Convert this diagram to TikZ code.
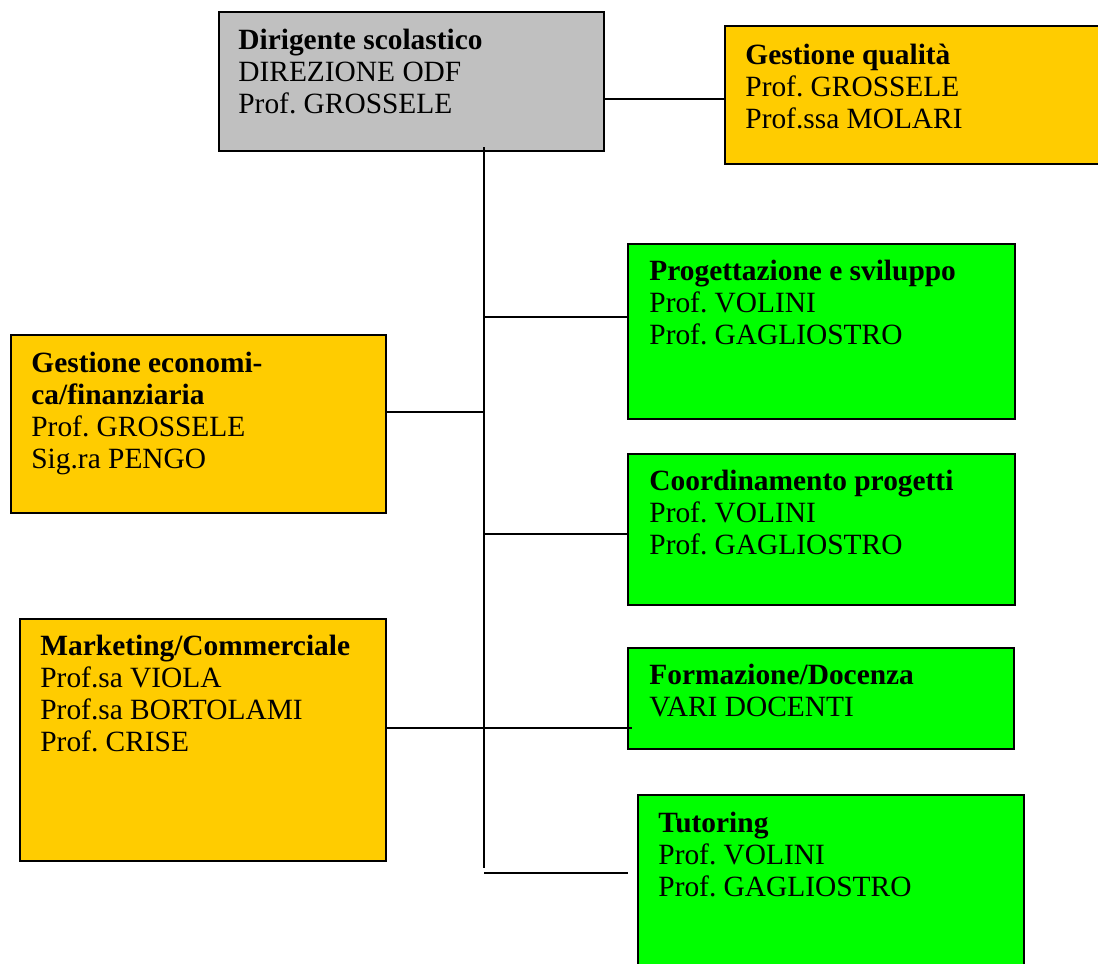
\documentclass[tikz,border=0pt]{standalone}
\usepackage{fontspec}
\setmainfont{Liberation Serif}
\usetikzlibrary{fit}
\definecolor{boxgray}{HTML}{C0C0C0}
\definecolor{boxorange}{HTML}{FFCC00}
\definecolor{boxgreen}{HTML}{00FF00}
\tikzset{
  unitbox/.style={draw=black, line width=1pt, inner sep=0pt},
  graybox/.style={unitbox, fill=boxgray},
  orangebox/.style={unitbox, fill=boxorange},
  greenbox/.style={unitbox, fill=boxgreen},
  boxtext/.style={anchor=north west, inner sep=0pt, align=left,
    font=\fontsize{14.7}{16}\selectfont\frenchspacing},
  conn/.style={draw=black, line width=0.9pt}
}
\begin{document}
\begin{tikzpicture}[x=0.5pt, y=-0.5pt]
\useasboundingbox (0,0) rectangle (1098,964);
\fill[white] (0,0) rectangle (1098,964);

% boxes
\node[graybox, fit={(219,12) (604,151)}] (dir) {};
\node[orangebox, fit={(725,26) (1108,164)}] (qual) {};
\node[greenbox, fit={(628,244) (1015,419)}] (prog) {};
\node[orangebox, fit={(11,335) (386,513)}] (econ) {};
\node[greenbox, fit={(628,454) (1015,605)}] (coord) {};
\node[orangebox, fit={(20,619) (386,861)}] (mkt) {};
\node[greenbox, fit={(628,648) (1014,749)}] (form) {};
\node[greenbox, fit={(638,795) (1024,980)}] (tut) {};

% texts
\node[boxtext] (tdir) at ([shift={(20,18)}]dir.north west)
  {\textbf{Dirigente scolastico}\\DIREZIONE ODF\\Prof. GROSSELE};
\node[boxtext] (tqual) at ([shift={(21,19)}]qual.north west)
  {\textbf{Gestione qualità}\\Prof. GROSSELE\\Prof.ssa MOLARI};
\node[boxtext] (tprog) at ([shift={(22,17)}]prog.north west)
  {\textbf{Progettazione e sviluppo}\\Prof. VOLINI\\Prof. GAGLIOSTRO};
\node[boxtext] (tecon) at ([shift={(21,18)}]econ.north west)
  {\textbf{Gestione economi-}\\\textbf{ca/finanziaria}\\Prof. GROSSELE\\Sig.ra PENGO};
\node[boxtext] (tcoord) at ([shift={(22,17)}]coord.north west)
  {\textbf{Coordinamento progetti}\\Prof. VOLINI\\Prof. GAGLIOSTRO};
\node[boxtext] (tmkt) at ([shift={(21,17)}]mkt.north west)
  {\textbf{Marketing/Commerciale}\\Prof.sa VIOLA\\Prof.sa BORTOLAMI\\Prof. CRISE};
\node[boxtext] (tform) at ([shift={(22,17)}]form.north west)
  {\textbf{Formazione/Docenza}\\VARI DOCENTI};
\node[boxtext] (ttut) at ([shift={(21,18)}]tut.north west)
  {\textbf{Tutoring}\\Prof. VOLINI\\Prof. GAGLIOSTRO};

% connectors
\coordinate (q) at (604,99);
\coordinate (trunkTop) at (484,147);
\coordinate (trunkBot) at (484,868);
\coordinate (j1) at (484,317);
\coordinate (j2) at (484,412);
\coordinate (j3) at (484,534);
\coordinate (j4) at (484,728);
\coordinate (j4e) at (632,728);
\coordinate (j5) at (484,873);
\coordinate (j5e) at (628,873);

\draw[conn] (q -| dir.east) -- (q -| qual.west);
\draw[conn] (trunkTop) -- (trunkBot);
\draw[conn] (j1) -- (j1 -| prog.west);
\draw[conn] (j2 -| econ.east) -- (j2);
\draw[conn] (j3) -- (j3 -| coord.west);
\draw[conn] (j4 -| mkt.east) -- (j4e);
\draw[conn] (j5) -- (j5e);
\end{tikzpicture}
\end{document}
